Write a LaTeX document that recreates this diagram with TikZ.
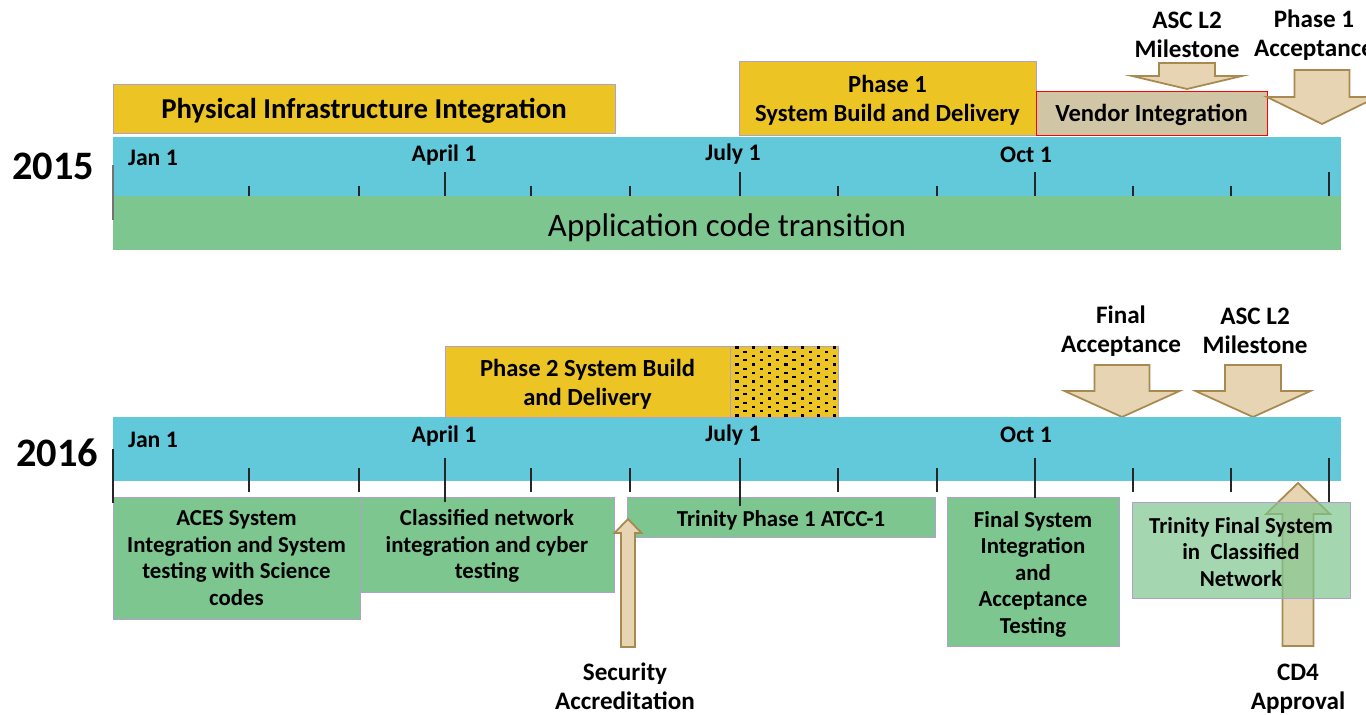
\documentclass[tikz,border=0pt]{standalone}
\usepackage{fontspec}
\setmainfont{Carlito}
\definecolor{barblue}{RGB}{98,201,219}
\definecolor{taskgreen}{RGB}{126,198,143}
\definecolor{phasegold}{RGB}{236,197,36}
\definecolor{vendortan}{RGB}{208,198,166}
\definecolor{arrowfill}{RGB}{230,212,178}
\definecolor{arrowedge}{RGB}{168,137,79}
\definecolor{boxedge}{RGB}{175,160,205}

\begin{document}
\begin{tikzpicture}[
      x=0.02cm, y=-0.02cm,
      yearlbl/.style={font=\fontsize{23}{27}\selectfont\bfseries},
      datelbl/.style={font=\fontsize{13.5}{16}\selectfont\bfseries},
      bar/.style={fill=barblue, draw=none},
      phase/.style={fill=phasegold, draw=boxedge, thin},
      task/.style={fill=taskgreen, draw=boxedge, thin},
      boxtxt/.style={font=\fontsize{13}{15.1}\selectfont\bfseries, align=center},
      phasetxt/.style={font=\fontsize{14}{16.5}\selectfont\bfseries, align=center},
      milestone/.style={fill=arrowfill, draw=arrowedge, line width=1pt, line join=miter},
      mslbl/.style={font=\fontsize{14.3}{16.3}\selectfont\bfseries, align=center},
      majortick/.style={line width=1pt, black!85},
      minortick/.style={line width=0.9pt, black!85},
      edgetick/.style={line width=0.9pt, black!55}
    ]
      \useasboundingbox (0,0) rectangle (1366,715);
      \clip (0,0) rectangle (1366,715);

      % 2015 timeline
      \node[yearlbl] (y2015) at (53,166) {2015};
      \path[bar] (113,137) rectangle (1341,196);
      \path[fill=taskgreen] (113,196) rectangle node[font=\fontsize{18.7}{21}\selectfont, yshift=-2.5pt] (appcode)
        {Application code transition} (1341,250);
      \foreach \x in {249,359,531,630,838,937,1133,1231}
        \draw[minortick] (\x,186) -- (\x,196);
      \foreach \x in {445,740,1035,1329}
        \draw[majortick] (\x,172) -- (\x,196);
      \draw[edgetick] (113,165) -- (113,220);
      \node[datelbl] (jan15) at (153,158) {Jan 1};
      \node[datelbl] (apr15) at (444,155) {April 1};
      \node[datelbl] (jul15) at (733,154) {July 1};
      \node[datelbl] (oct15) at (1026,155) {Oct 1};

      % 2015 phases
      \draw[phase] (113,84) rectangle node[font=\fontsize{16.4}{19}\selectfont\bfseries, yshift=-1.5pt] (phys)
        {Physical Infrastructure Integration} (615,133);
      \draw[phase] (739,61) rectangle node[phasetxt, yshift=-1.5pt] (build1)
        {Phase 1\\System Build and Delivery} (1036,135);
      \draw[fill=vendortan, draw=red, thin] (1036,91) rectangle node[phasetxt, yshift=-1pt] (vendor)
        {Vendor Integration} (1267,135);

      % milestone arrows (tip x / tip y / shaft half / head half / head height / top)
      \foreach \tx/\ty/\sw/\hw/\hh/\top in {1187/89/28/55/13/63, 1322/124/27.5/55/27/70,
                                            1122/417/27.5/57.5/26/365, 1253/417/28/57.5/26/365}
        \draw[milestone] (\tx-\sw,\top) -- (\tx+\sw,\top) -- (\tx+\sw,\ty-\hh) -- (\tx+\hw,\ty-\hh)
          -- (\tx,\ty) -- (\tx-\hw,\ty-\hh) -- (\tx-\sw,\ty-\hh) -- cycle;
      \node[mslbl] (asc15) at (1187,35) {ASC L2\\Milestone};
      \node[mslbl] (acc15) at (1314,35) {Phase 1\\Acceptance};

      % 2016 timeline
      \node[yearlbl] (y2016) at (57,453) {2016};
      \path[bar] (113,417) rectangle (1341,481);
      \node[mslbl] (final16) at (1121,331) {Final\\Acceptance};
      \node[mslbl] (asc16) at (1255,331) {ASC L2\\Milestone};

      % 2016 phases
      \draw[phase] (445,346) rectangle node[phasetxt, yshift=-1.5pt] (build2)
        {Phase 2 System Build\\and Delivery} (730,417);
      \draw[phase] (730,346) rectangle (838,417);
      \foreach \r [evaluate=\r as \off using {mod(\r,2)*8}] in {0,...,16}{
        \foreach \c in {0,...,6}{
          \pgfmathtruncatemacro{\inside}{737+\c*16.3+\off < 838 ? 1 : 0}
          \ifnum\inside=1
            \fill (737+\c*16.3+\off-1.6,347.5+\r*4.25-1.1) rectangle ++(3.2,2.3);
          \fi
        }
      }

      % 2016 tasks
      \draw[task] (113,497) rectangle node[boxtxt] (aces)
        {ACES System\\Integration and System\\testing with Science\\codes} (360,619);
      \draw[task] (360,497) rectangle node[boxtxt, yshift=-1pt] (classnet)
        {Classified network\\integration and cyber\\testing} (614,592);
      \draw[task] (627,497) rectangle node[boxtxt, yshift=-2pt] (trin1)
        {Trinity Phase 1 ATCC-1} (935,537);
      \draw[task] (947,497) rectangle node[boxtxt, yshift=-1.5pt] (finalsys)
        {Final System\\Integration\\and\\Acceptance\\Testing} (1119,646);

      % up arrows
      \foreach \tx/\ty/\sw/\hw/\hh/\bot in {628/519/7/13.5/14/647, 1298/483/15.5/32/31/646}
        \draw[milestone] (\tx-\sw,\bot) -- (\tx+\sw,\bot) -- (\tx+\sw,\ty+\hh) -- (\tx+\hw,\ty+\hh)
          -- (\tx,\ty) -- (\tx-\hw,\ty+\hh) -- (\tx-\sw,\ty+\hh) -- cycle;
      \draw[task, fill opacity=0.7] (1132,502) rectangle node[boxtxt, text opacity=1, yshift=-1pt] (trinfinal)
        {Trinity Final System\\in\ \ Classified\\Network} (1350,598);
      \node[mslbl] (secacc) at (625,686) {Security\\Accreditation};
      \node[mslbl] (cd4) at (1298,689) {CD4\\Approval};

      % 2016 ticks
      \foreach \x in {249,359,531,630,838,937,1133,1231}
        \draw[minortick] (\x,468) -- (\x,492);
      \foreach \x/\b in {445/502,740/506,1035/498,1329/502}
        \draw[majortick] (\x,458) -- (\x,\b);
      \draw[edgetick, black!85] (113,449) -- (113,503);
      \node[datelbl] (jan16) at (153,440) {Jan 1};
      \node[datelbl] (apr16) at (444,436) {April 1};
      \node[datelbl] (jul16) at (733,435) {July 1};
      \node[datelbl] (oct16) at (1026,435) {Oct 1};
    \end{tikzpicture}
\end{document}
